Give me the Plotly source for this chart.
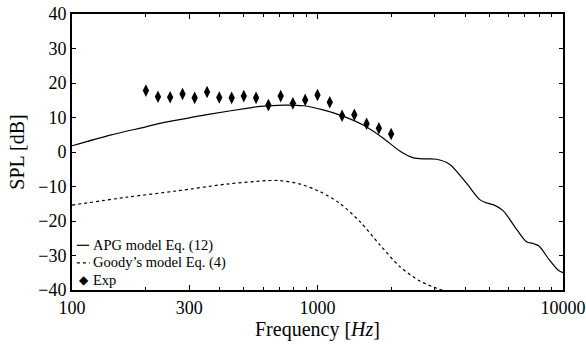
import plotly.graph_objects as go

# Experimental data (1/20-decade spaced frequencies)
exp_freq = [200, 224, 251, 282, 316, 355, 398, 447, 501, 562, 631,
            708, 794, 891, 1000, 1122, 1259, 1413, 1585, 1778, 1995]
exp_spl = [17.8, 16.0, 15.85, 16.8, 15.7, 17.4, 15.8, 15.7, 16.2, 15.7, 13.6,
           16.2, 14.1, 15.1, 16.5, 14.4, 10.5, 10.8, 8.2, 6.9, 5.2]

# APG model Eq. (12)
apg_freq = [100, 143, 200, 228, 300, 365, 530, 584, 727, 876, 1055, 1270,
            1535, 1853, 2163, 2460, 2750, 3060, 3460, 4050, 4580, 4900, 5250,
            5700, 6500, 7100, 7600, 8000, 8800, 9540, 10000]
apg_spl = [1.8, 4.9, 7.3, 8.3, 9.9, 11.0, 12.8, 13.2, 13.6, 13.4, 12.2, 10.4,
           7.8, 4.0, 0.3, -1.7, -2.0, -2.1, -3.6, -9.1, -13.8, -14.8, -15.4,
           -17.0, -22.6, -26.0, -26.6, -27.3, -31.3, -34.2, -35.0]

# Goody's model Eq. (4)
goody_freq = [100, 167, 266, 427, 620, 703, 850, 1025, 1234, 1490, 1800,
              2163, 2610, 3060, 3400]
goody_spl = [-15.4, -13.1, -11.3, -9.3, -8.3, -8.3, -9.3, -11.5, -14.9, -20.2,
             -27.0, -33.2, -37.4, -39.5, -40.5]

x_tickvals = [100, 300, 1000, 10000]
x_ticktext = ["100", "300", "1000", "10000"]
x_minor = [200, 400, 500, 600, 700, 800, 900, 2000, 3000, 4000, 5000, 6000,
           7000, 8000, 9000]
y_tickvals = [-40, -30, -20, -10, 0, 10, 20, 30, 40]

legend_labels = ["APG model Eq. (12)", "Goody\u2019s model Eq. (4)", "Exp"]

FONT = "Liberation Serif"

fig = go.Figure()
fig.add_trace(go.Scatter(x=apg_freq, y=apg_spl, mode="lines",
                         line=dict(color="black", width=1.2, shape="spline", smoothing=0.8),
                         name=legend_labels[0], showlegend=False))
fig.add_trace(go.Scatter(x=goody_freq, y=goody_spl, mode="lines",
                         line=dict(color="black", width=1.2, dash="3px,3px", shape="spline", smoothing=0.8),
                         name=legend_labels[1], showlegend=False))
fig.add_trace(go.Scatter(x=exp_freq, y=exp_spl, mode="markers",
                         marker=dict(symbol="diamond-tall", size=9, color="black"),
                         name=legend_labels[2], showlegend=False))

# Custom legend (bottom-left, inside the axes)
leg_y = [0.162, 0.098, 0.036]
fig.add_shape(type="line", xref="paper", yref="paper", x0=0.010, x1=0.035,
              y0=leg_y[0], y1=leg_y[0], line=dict(color="black", width=1.2))
fig.add_shape(type="line", xref="paper", yref="paper", x0=0.010, x1=0.036,
              y0=leg_y[1], y1=leg_y[1], line=dict(color="black", width=1.2, dash="3px,3px"))
fig.add_annotation(xref="paper", yref="paper", x=0.0245, y=leg_y[2], text="\u25c6",
                   showarrow=False, font=dict(family="DejaVu Sans", size=12, color="black"),
                   xanchor="center", yanchor="middle")
for lbl, yy in zip(legend_labels, leg_y):
    fig.add_annotation(xref="paper", yref="paper", x=0.041, y=yy, text=lbl,
                       showarrow=False, xanchor="left", yanchor="middle",
                       borderpad=0,
                       font=dict(family=FONT, size=14.5, color="black"))

fig.update_xaxes(type="log", range=[2, 4], tickmode="array",
                 tickvals=x_tickvals, ticktext=x_ticktext, automargin=False,
                 ticks="inside", ticklen=5, tickwidth=1, tickcolor="black",
                 minor=dict(tickmode="array", tickvals=x_minor, ticks="inside",
                            ticklen=3, tickcolor="black", showgrid=False),
                 showline=True, linecolor="black", linewidth=2, mirror="ticks",
                 showgrid=False, zeroline=False,
                 title=dict(text="Frequency [<i>Hz</i>]", standoff=3,
                            font=dict(family=FONT, size=20, color="black")),
                 tickfont=dict(family=FONT, size=18, color="black"))
fig.update_yaxes(range=[-40, 40], tickmode="array", tickvals=y_tickvals,
                 automargin=False,
                 ticks="inside", ticklen=4, tickwidth=1, tickcolor="black",
                 showline=True, linecolor="black", linewidth=2, mirror="ticks",
                 showgrid=False, zeroline=False,
                 title=dict(text="SPL [dB]", standoff=8,
                            font=dict(family=FONT, size=20, color="black")),
                 tickfont=dict(family=FONT, size=18, color="black"))

fig.update_layout(width=586, height=344,
                  margin=dict(l=72, r=23, t=14, b=54),
                  paper_bgcolor="white", plot_bgcolor="white",
                  showlegend=False)

fig.write_html("out.html")
